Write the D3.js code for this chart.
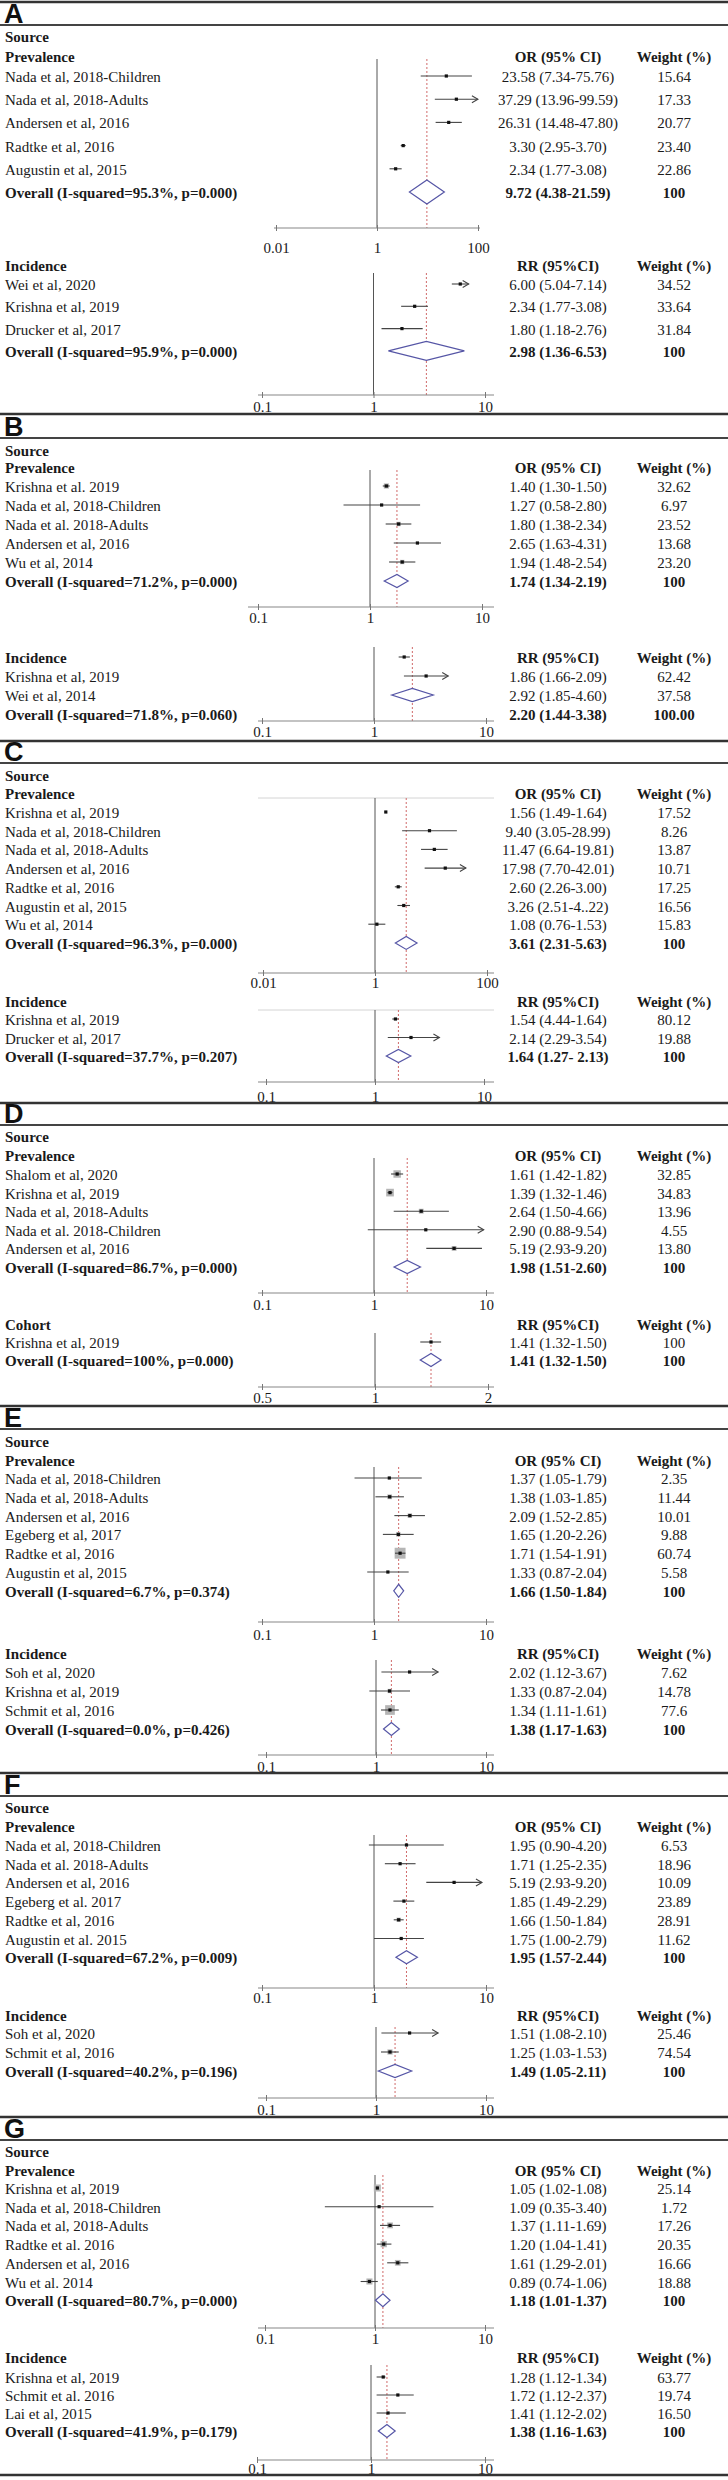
<!DOCTYPE html>
<html><head><meta charset="utf-8">
<script src="https://cdn.jsdelivr.net/npm/d3@7"></script>
<style>body{margin:0;background:#fff;} svg{display:block;}</style>
</head><body><svg id="chart" width="728" height="2480"></svg>
<script>
// ================= DATA =================
const panelLetters = ["A","B","C","D","E","F","G"];
const groupPrev = "Prevalence", groupInc = "Incidence", groupCohort = "Cohort";
const headOR = "OR (95% CI)", headRR = "RR (95%CI)", headWeight = "Weight (%)";
const ticksWide = [0.01, 1, 100], ticksWideLabels = ["0.01", "1", "100"];
const ticksStd = [0.1, 1, 10], ticksStdLabels = ["0.1", "1", "10"];
const ticksCohort = [0.5, 1, 2], ticksCohortLabels = ["0.5", "1", "2"];

// A
const aPrevStudies = ["Nada et al, 2018-Children","Nada et al, 2018-Adults","Andersen et al, 2016","Radtke et al, 2016","Augustin et al, 2015","Overall (I-squared=95.3%, p=0.000)"];
const aPrevEst = [23.58, 37.29, 26.31, 3.30, 2.34, 9.72];
const aPrevLo = [7.34, 13.96, 14.48, 2.95, 1.77, 4.38];
const aPrevHi = [75.76, 99.59, 47.80, 3.70, 3.08, 21.59];
const aPrevCI = ["23.58 (7.34-75.76)","37.29 (13.96-99.59)","26.31 (14.48-47.80)","3.30 (2.95-3.70)","2.34 (1.77-3.08)","9.72 (4.38-21.59)"];
const aPrevW = ["15.64","17.33","20.77","23.40","22.86","100"];
const aPrevArrow = [0,1,0,0,0,0];

const aIncStudies = ["Wei et al, 2020","Krishna et al, 2019","Drucker et al, 2017","Overall (I-squared=95.9%, p=0.000)"];
const aIncEst = [6.00, 2.34, 1.80, 2.98];
const aIncLo = [5.04, 1.77, 1.18, 1.36];
const aIncHi = [7.14, 3.08, 2.76, 6.53];
const aIncCI = ["6.00 (5.04-7.14)","2.34 (1.77-3.08)","1.80 (1.18-2.76)","2.98 (1.36-6.53)"];
const aIncW = ["34.52","33.64","31.84","100"];
const aIncArrow = [1,0,0,0];

// B
const bPrevStudies = ["Krishna et al. 2019","Nada et al, 2018-Children","Nada et al. 2018-Adults","Andersen et al, 2016","Wu et al, 2014","Overall (I-squared=71.2%, p=0.000)"];
const bPrevEst = [1.40, 1.27, 1.80, 2.65, 1.94, 1.74];
const bPrevLo = [1.30, 0.58, 1.38, 1.63, 1.48, 1.34];
const bPrevHi = [1.50, 2.80, 2.34, 4.31, 2.54, 2.19];
const bPrevCI = ["1.40 (1.30-1.50)","1.27 (0.58-2.80)","1.80 (1.38-2.34)","2.65 (1.63-4.31)","1.94 (1.48-2.54)","1.74 (1.34-2.19)"];
const bPrevW = ["32.62","6.97","23.52","13.68","23.20","100"];
const bPrevArrow = [0,0,0,0,0,0];

const bIncStudies = ["Krishna et al, 2019","Wei et al, 2014","Overall (I-squared=71.8%, p=0.060)"];
const bIncEst = [1.86, 2.92, 2.20];
const bIncLo = [1.66, 1.85, 1.44];
const bIncHi = [2.09, 4.60, 3.38];
const bIncCI = ["1.86 (1.66-2.09)","2.92 (1.85-4.60)","2.20 (1.44-3.38)"];
const bIncW = ["62.42","37.58","100.00"];
const bIncArrow = [0,1,0];

// C
const cPrevStudies = ["Krishna et al, 2019","Nada et al, 2018-Children","Nada et al, 2018-Adults","Andersen et al, 2016","Radtke et al, 2016","Augustin et al, 2015","Wu et al, 2014","Overall (I-squared=96.3%, p=0.000)"];
const cPrevEst = [1.56, 9.40, 11.47, 17.98, 2.60, 3.26, 1.08, 3.61];
const cPrevLo = [1.49, 3.05, 6.64, 7.70, 2.26, 2.51, 0.76, 2.31];
const cPrevHi = [1.64, 28.99, 19.81, 42.01, 3.00, 4.22, 1.53, 5.63];
const cPrevCI = ["1.56 (1.49-1.64)","9.40 (3.05-28.99)","11.47 (6.64-19.81)","17.98 (7.70-42.01)","2.60 (2.26-3.00)","3.26 (2.51-4..22)","1.08 (0.76-1.53)","3.61 (2.31-5.63)"];
const cPrevW = ["17.52","8.26","13.87","10.71","17.25","16.56","15.83","100"];
const cPrevArrow = [0,0,0,1,0,0,0,0];

const cIncStudies = ["Krishna et al, 2019","Drucker et al, 2017","Overall (I-squared=37.7%, p=0.207)"];
const cIncEst = [1.54, 2.14, 1.64];
const cIncLo = [1.44, 1.31, 1.27];
const cIncHi = [1.64, 3.90, 2.13];
const cIncCI = ["1.54 (4.44-1.64)","2.14 (2.29-3.54)","1.64 (1.27- 2.13)"];
const cIncW = ["80.12","19.88","100"];
const cIncArrow = [0,1,0];

// D
const dPrevStudies = ["Shalom et al, 2020","Krishna et al, 2019","Nada et al, 2018-Adults","Nada et al. 2018-Children","Andersen et al, 2016","Overall (I-squared=86.7%, p=0.000)"];
const dPrevEst = [1.61, 1.39, 2.64, 2.90, 5.19, 1.98];
const dPrevLo = [1.42, 1.32, 1.50, 0.88, 2.93, 1.51];
const dPrevHi = [1.82, 1.46, 4.66, 9.54, 9.20, 2.60];
const dPrevCI = ["1.61 (1.42-1.82)","1.39 (1.32-1.46)","2.64 (1.50-4.66)","2.90 (0.88-9.54)","5.19 (2.93-9.20)","1.98 (1.51-2.60)"];
const dPrevW = ["32.85","34.83","13.96","4.55","13.80","100"];
const dPrevArrow = [0,0,0,1,0,0];

const dCohStudies = ["Krishna et al, 2019","Overall (I-squared=100%, p=0.000)"];
const dCohEst = [1.41, 1.41];
const dCohLo = [1.32, 1.32];
const dCohHi = [1.50, 1.50];
const dCohCI = ["1.41 (1.32-1.50)","1.41 (1.32-1.50)"];
const dCohW = ["100","100"];
const dCohArrow = [0,0];

// E
const ePrevStudies = ["Nada et al, 2018-Children","Nada et al, 2018-Adults","Andersen et al, 2016","Egeberg et al, 2017","Radtke et al, 2016","Augustin et al, 2015","Overall (I-squared=6.7%, p=0.374)"];
const ePrevEst = [1.37, 1.38, 2.09, 1.65, 1.71, 1.33, 1.66];
const ePrevLo = [0.67, 1.03, 1.52, 1.20, 1.54, 0.87, 1.50];
const ePrevHi = [2.67, 1.85, 2.85, 2.26, 1.91, 2.04, 1.84];
const ePrevCI = ["1.37 (1.05-1.79)","1.38 (1.03-1.85)","2.09 (1.52-2.85)","1.65 (1.20-2.26)","1.71 (1.54-1.91)","1.33 (0.87-2.04)","1.66 (1.50-1.84)"];
const ePrevW = ["2.35","11.44","10.01","9.88","60.74","5.58","100"];
const ePrevArrow = [0,0,0,0,0,0,0];

const eIncStudies = ["Soh et al, 2020","Krishna et al, 2019","Schmit et al, 2016","Overall (I-squared=0.0%, p=0.426)"];
const eIncEst = [2.02, 1.33, 1.34, 1.38];
const eIncLo = [1.12, 0.87, 1.11, 1.17];
const eIncHi = [3.67, 2.04, 1.61, 1.63];
const eIncCI = ["2.02 (1.12-3.67)","1.33 (0.87-2.04)","1.34 (1.11-1.61)","1.38  (1.17-1.63)"];
const eIncW = ["7.62","14.78","77.6","100"];
const eIncArrow = [1,0,0,0];

// F
const fPrevStudies = ["Nada et al, 2018-Children","Nada et al. 2018-Adults","Andersen et al, 2016","Egeberg et al. 2017","Radtke et al, 2016","Augustin et al. 2015","Overall (I-squared=67.2%, p=0.009)"];
const fPrevEst = [1.95, 1.71, 5.19, 1.85, 1.66, 1.75, 1.95];
const fPrevLo = [0.90, 1.25, 2.93, 1.49, 1.50, 1.00, 1.57];
const fPrevHi = [4.20, 2.35, 9.20, 2.29, 1.84, 2.79, 2.44];
const fPrevCI = ["1.95 (0.90-4.20)","1.71 (1.25-2.35)","5.19 (2.93-9.20)","1.85 (1.49-2.29)","1.66 (1.50-1.84)","1.75 (1.00-2.79)","1.95 (1.57-2.44)"];
const fPrevW = ["6.53","18.96","10.09","23.89","28.91","11.62","100"];
const fPrevArrow = [0,0,1,0,0,0,0];

const fIncStudies = ["Soh et al, 2020","Schmit et al, 2016","Overall (I-squared=40.2%, p=0.196)"];
const fIncEst = [2.02, 1.34, 1.49];
const fIncLo = [1.12, 1.11, 1.05];
const fIncHi = [3.67, 1.61, 2.11];
const fIncCI = ["1.51 (1.08-2.10)","1.25 (1.03-1.53)","1.49 (1.05-2.11)"];
const fIncW = ["25.46","74.54","100"];
const fIncArrow = [1,0,0];

// G
const gPrevStudies = ["Krishna et al, 2019","Nada et al, 2018-Children","Nada et al, 2018-Adults","Radtke et al. 2016","Andersen et al, 2016","Wu et al. 2014","Overall (I-squared=80.7%, p=0.000)"];
const gPrevEst = [1.05, 1.09, 1.37, 1.20, 1.61, 0.89, 1.18];
const gPrevLo = [1.02, 0.35, 1.11, 1.04, 1.29, 0.74, 1.01];
const gPrevHi = [1.08, 3.40, 1.69, 1.41, 2.01, 1.06, 1.37];
const gPrevCI = ["1.05 (1.02-1.08)","1.09 (0.35-3.40)","1.37 (1.11-1.69)","1.20 (1.04-1.41)","1.61 (1.29-2.01)","0.89 (0.74-1.06)","1.18 (1.01-1.37)"];
const gPrevW = ["25.14","1.72","17.26","20.35","16.66","18.88","100"];
const gPrevArrow = [0,0,0,0,0,0,0];

const gIncStudies = ["Krishna et al, 2019","Schmit et al. 2016","Lai et al, 2015","Overall (I-squared=41.9%, p=0.179)"];
const gIncEst = [1.28, 1.72, 1.41, 1.38];
const gIncLo = [1.12, 1.12, 1.12, 1.16];
const gIncHi = [1.34, 2.37, 2.02, 1.63];
const gIncCI = ["1.28 (1.12-1.34)","1.72 (1.12-2.37)","1.41 (1.12-2.02)","1.38 (1.16-1.63)"];
const gIncW = ["63.77","19.74","16.50","100"];
const gIncArrow = [0,0,0,0];

// ================= ASSEMBLY (data + layout) =================
function sub(group, head, studies, est, lo, hi, ci, w, arrow, ticks, tickLabels) {
  return {group, head, studies, est, lo, hi, ci, w, arrow, ticks, tickLabels};
}
const panelsData = [
  [sub(groupPrev, headOR, aPrevStudies, aPrevEst, aPrevLo, aPrevHi, aPrevCI, aPrevW, aPrevArrow, ticksWide, ticksWideLabels),
   sub(groupInc, headRR, aIncStudies, aIncEst, aIncLo, aIncHi, aIncCI, aIncW, aIncArrow, ticksStd, ticksStdLabels)],
  [sub(groupPrev, headOR, bPrevStudies, bPrevEst, bPrevLo, bPrevHi, bPrevCI, bPrevW, bPrevArrow, ticksStd, ticksStdLabels),
   sub(groupInc, headRR, bIncStudies, bIncEst, bIncLo, bIncHi, bIncCI, bIncW, bIncArrow, ticksStd, ticksStdLabels)],
  [sub(groupPrev, headOR, cPrevStudies, cPrevEst, cPrevLo, cPrevHi, cPrevCI, cPrevW, cPrevArrow, ticksWide, ticksWideLabels),
   sub(groupInc, headRR, cIncStudies, cIncEst, cIncLo, cIncHi, cIncCI, cIncW, cIncArrow, ticksStd, ticksStdLabels)],
  [sub(groupPrev, headOR, dPrevStudies, dPrevEst, dPrevLo, dPrevHi, dPrevCI, dPrevW, dPrevArrow, ticksStd, ticksStdLabels),
   sub(groupCohort, headRR, dCohStudies, dCohEst, dCohLo, dCohHi, dCohCI, dCohW, dCohArrow, ticksCohort, ticksCohortLabels)],
  [sub(groupPrev, headOR, ePrevStudies, ePrevEst, ePrevLo, ePrevHi, ePrevCI, ePrevW, ePrevArrow, ticksStd, ticksStdLabels),
   sub(groupInc, headRR, eIncStudies, eIncEst, eIncLo, eIncHi, eIncCI, eIncW, eIncArrow, ticksStd, ticksStdLabels)],
  [sub(groupPrev, headOR, fPrevStudies, fPrevEst, fPrevLo, fPrevHi, fPrevCI, fPrevW, fPrevArrow, ticksStd, ticksStdLabels),
   sub(groupInc, headRR, fIncStudies, fIncEst, fIncLo, fIncHi, fIncCI, fIncW, fIncArrow, ticksStd, ticksStdLabels)],
  [sub(groupPrev, headOR, gPrevStudies, gPrevEst, gPrevLo, gPrevHi, gPrevCI, gPrevW, gPrevArrow, ticksStd, ticksStdLabels),
   sub(groupInc, headRR, gIncStudies, gIncEst, gIncLo, gIncHi, gIncCI, gIncW, gIncArrow, ticksStd, ticksStdLabels)]
];

// layout (pixel positions)
const layout = [
  {top:2, thin:25, source:37, subs:[
    {hdr:57, first:77, step:23.2, axis:228, lab:248, vTop:59, range:[276,478], ext:[274,480], dH:24, boxK:0},
    {hdr:266, first:285, step:22.3, axis:395, lab:407, vTop:273, range:[262,485], dH:19, boxK:0}]},
  {top:414, thin:438, source:451, subs:[
    {hdr:468, first:487, step:19, axis:607, lab:618, vTop:470, range:[258,482], ext:[248,494], boxK:0.9},
    {hdr:658, first:677, step:19, axis:721, lab:732, vTop:647, range:[262,486], boxK:0, shift:-1}]},
  {top:741, thin:763, source:776, subs:[
    {hdr:794, first:813, step:18.7, axis:973, lab:983, vTop:798, range:[263,487], frame:true, boxK:0},
    {hdr:1002, first:1020, step:18.5, axis:1082, lab:1097, vTop:1010, range:[266,484], frame:true, boxK:0}]},
  {top:1103, thin:1125, source:1137, subs:[
    {hdr:1156, first:1175, step:18.6, axis:1293, lab:1305, vTop:1158, range:[262,486], boxK:1.3},
    {hdr:1325, first:1343, step:18, axis:1387, lab:1398, vTop:1333, range:[262,488], boxK:0}]},
  {top:1406, thin:1429, source:1442, subs:[
    {hdr:1461, first:1479, step:18.8, axis:1622, lab:1635, vTop:1467, range:[262,486], boxK:1.4},
    {hdr:1654, first:1673, step:19, axis:1755, lab:1767, vTop:1660, range:[266,486], boxK:1.1}]},
  {top:1773, thin:1796, source:1808, subs:[
    {hdr:1827, first:1846, step:18.7, axis:1988, lab:1998, vTop:1835, range:[262,486], boxK:0.8},
    {hdr:2016, first:2034, step:19, axis:2098, lab:2110, vTop:2027, range:[266,486], boxK:0.6}]},
  {top:2117, thin:2140, source:2152, subs:[
    {hdr:2171, first:2189, step:18.7, axis:2328, lab:2339, vTop:2175, range:[265,485], boxK:1.4},
    {hdr:2358, first:2378, step:18, axis:2460, lab:2469, vTop:2365, range:[257,485], boxK:0.5}]}
];
const bottomLine = 2475;

// ================= DRAW =================
const W = 728;
const SERIF = "'Liberation Serif','Times New Roman',serif";
const svg = d3.select("#chart");
svg.append("rect").attr("width", W).attr("height", 2480).attr("fill", "#fff");

const colStat = 558, colWeight = 674, xName = 5;
const textCol = "#1a1a1a";

function txt(g, x, y, s, opts = {}) {
  return g.append("text").attr("x", x).attr("y", y).text(s)
    .attr("font-family", SERIF).attr("font-size", opts.size || 15)
    .attr("font-weight", opts.bold ? "bold" : "normal")
    .attr("text-anchor", opts.anchor || "start")
    .attr("fill", textCol);
}

function drawSub(g, d, L) {
  const n = d.studies.length;
  const rowY = i => L.first + i * L.step;
  const plotY = i => rowY(i + (L.shift || 0)) - 1;
  const x = d3.scaleLog().domain([d.ticks[0], d.ticks[d.ticks.length - 1]]).range(L.range);
  const xmax = d.ticks[d.ticks.length - 1];
  const ext = L.ext || [258, 494];

  // header row
  txt(g, xName, L.hdr + 5, d.group, {bold: true});
  txt(g, colStat, L.hdr + 5, d.head, {bold: true, anchor: "middle"});
  txt(g, colWeight, L.hdr + 5, headWeight, {bold: true, anchor: "middle"});

  // frame top line
  if (L.frame) {
    g.append("line").attr("x1", ext[0]).attr("x2", ext[1]).attr("y1", L.vTop).attr("y2", L.vTop)
      .attr("stroke", "#d4d4d4").attr("stroke-width", 1);
  }
  // null line at 1
  g.append("line").attr("x1", x(1)).attr("x2", x(1)).attr("y1", L.vTop).attr("y2", L.axis)
    .attr("stroke", "#555").attr("stroke-width", 1);
  // overall dashed line
  g.append("line").attr("x1", x(d.est[n - 1])).attr("x2", x(d.est[n - 1]))
    .attr("y1", L.vTop).attr("y2", L.axis)
    .attr("stroke", "#d06a6a").attr("stroke-width", 1).attr("stroke-dasharray", "2,2");

  // axis
  g.append("line").attr("x1", ext[0]).attr("x2", ext[1]).attr("y1", L.axis).attr("y2", L.axis)
    .attr("stroke", "#888").attr("stroke-width", 1.2);
  const ax = d3.axisBottom(x).tickValues(d.ticks).tickFormat((v, i) => d.tickLabels[i])
    .tickSize(3).tickPadding(Math.max(0, L.lab - L.axis - 8.6));
  const ag = g.append("g").attr("transform", `translate(0,${L.axis})`).call(ax);
  ag.select(".domain").remove();
  ag.selectAll(".tick line").attr("stroke", "#777").attr("y1", -3);
  ag.selectAll(".tick text").attr("font-family", SERIF).attr("font-size", 15).attr("fill", textCol);

  // rows
  d.studies.forEach((s, i) => {
    const last = i === n - 1;
    txt(g, xName, rowY(i) + 5, s, {bold: last});
    txt(g, colStat, rowY(i) + 5, d.ci[i], {bold: last, anchor: "middle"});
    txt(g, colWeight, rowY(i) + 5, d.w[i], {bold: last, anchor: "middle"});
  });

  // marks
  d.studies.forEach((s, i) => {
    const y = plotY(i);
    if (i === n - 1) {
      const h = (L.dH || 13) / 2;
      const pts = [[x(d.lo[i]), y], [x(d.est[i]), y - h], [x(d.hi[i]), y], [x(d.est[i]), y + h]];
      g.append("path").attr("d", d3.line()(pts) + "Z")
        .attr("fill", "#fff").attr("stroke", "#5656a6").attr("stroke-width", 1.2);
      return;
    }
    const hiV = Math.min(d.hi[i], xmax);
    const side = (L.boxK || 0) * Math.sqrt(parseFloat(d.w[i]));
    if (side >= 4) {
      g.append("rect").attr("x", x(d.est[i]) - side / 2).attr("y", y - side / 2)
        .attr("width", side).attr("height", side).attr("fill", "#b5b5b5");
    }
    g.append("line").attr("x1", x(d.lo[i])).attr("x2", x(hiV)).attr("y1", y).attr("y2", y)
      .attr("stroke", "#444").attr("stroke-width", 1.1);
    if (d.arrow[i]) {
      const xe = x(hiV);
      g.append("path").attr("d", `M${xe - 6},${y - 3.5}L${xe},${y}L${xe - 6},${y + 3.5}`)
        .attr("fill", "none").attr("stroke", "#444").attr("stroke-width", 1.1);
    }
    g.append("rect").attr("x", x(d.est[i]) - 1.6).attr("y", y - 1.6)
      .attr("width", 3.2).attr("height", 3.2).attr("fill", "#111");
  });
}

panelLetters.forEach((letter, p) => {
  const L = layout[p];
  const g = svg.append("g");
  g.append("line").attr("x1", 0).attr("x2", W).attr("y1", L.top).attr("y2", L.top)
    .attr("stroke", "#333").attr("stroke-width", 2.5);
  g.append("line").attr("x1", 0).attr("x2", W).attr("y1", L.thin).attr("y2", L.thin)
    .attr("stroke", "#444").attr("stroke-width", 2);
  g.append("text").attr("x", 4).attr("y", L.thin - 2.5).text(letter)
    .attr("font-family", "'Liberation Sans Narrow','Arial Narrow','Liberation Sans',Arial,sans-serif")
    .attr("font-weight", "bold").attr("font-size", 27).attr("fill", "#111");
  txt(g, xName, L.source + 5, "Source", {bold: true});
  panelsData[p].forEach((d, k) => drawSub(g, d, L.subs[k]));
});
svg.append("line").attr("x1", 0).attr("x2", W).attr("y1", bottomLine).attr("y2", bottomLine)
  .attr("stroke", "#333").attr("stroke-width", 2.5);
</script>
</body></html>
